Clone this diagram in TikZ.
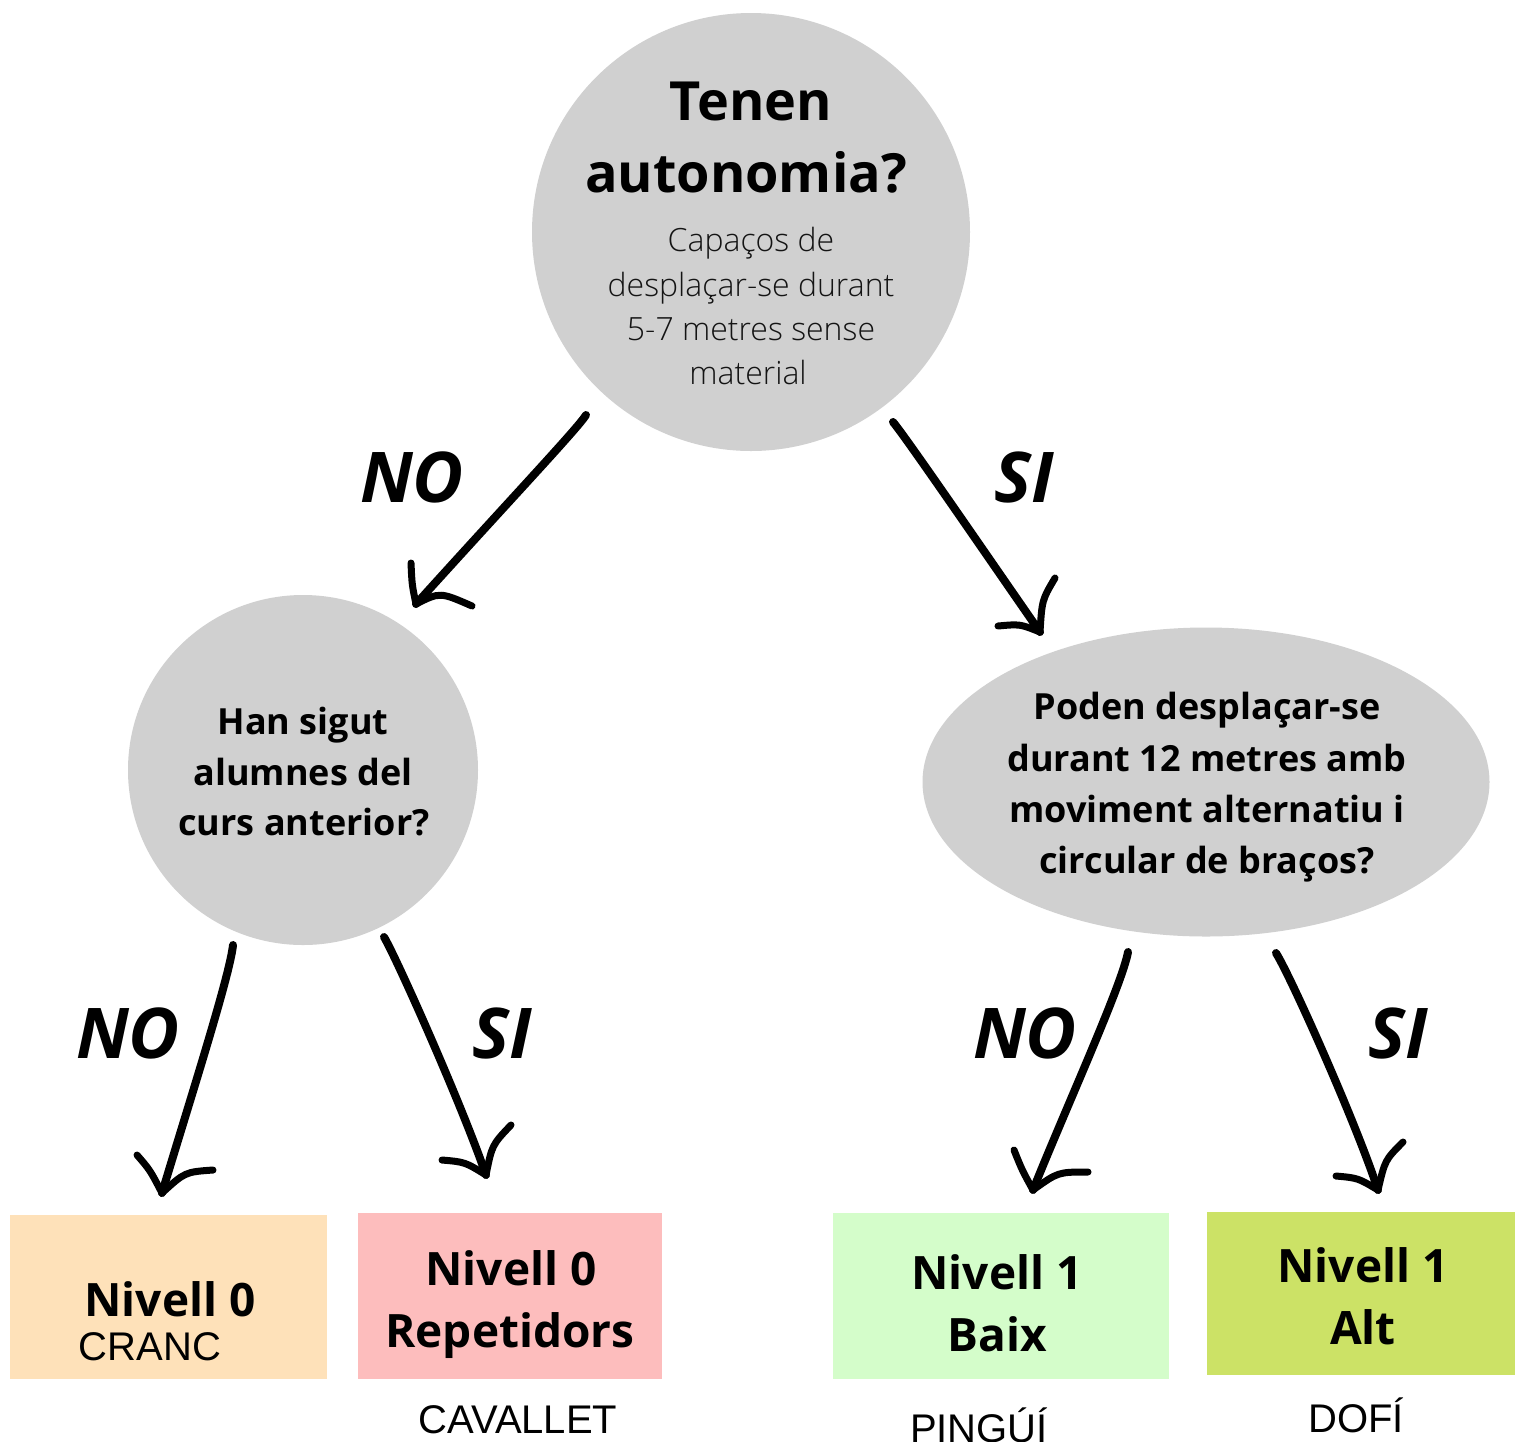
\documentclass[tikz,border=0pt]{standalone}
\usepackage{fontspec}
\setmainfont{Open Sans}
\IfFontExistsTF{Open Sans Light}{\newfontfamily\lightfont{Open Sans Light}}{\newfontfamily\lightfont{Open Sans}}
\newfontfamily\arialfont{Liberation Sans}
\usetikzlibrary{shapes.geometric}
\definecolor{qgray}{HTML}{D0D0D0}
\definecolor{peach}{HTML}{FEE1B9}
\definecolor{pinkbox}{HTML}{FDBDBD}
\definecolor{mintbox}{HTML}{D4FDCA}
\definecolor{limebox}{HTML}{CCE266}
\tikzset{
  qcircle/.style={circle,fill=qgray,inner sep=0pt,minimum size=#1},
  levelbox/.style={rectangle,inner sep=0pt},
  ln/.style={anchor=base,inner sep=0pt},
  titlefont/.style={ln,font=\fontsize{54}{60}\selectfont\bfseries},
  descfont/.style={ln,font=\fontsize{32}{36}\selectfont\lightfont,text=black!92},
  qfont/.style={ln,font=\fontsize{36}{40}\selectfont\bfseries},
  answer/.style={ln,font=\fontsize{70}{74}\selectfont\bfseries\itshape},
  levelfont/.style={ln,font=\fontsize{46}{50}\selectfont\bfseries},
  animal/.style={ln,font=\fontsize{40}{44}\selectfont\arialfont},
  shaft/.style={line width=8pt,line cap=round,line join=round},
  headstroke/.style={line width=7pt,line cap=round},
}
\begin{document}
\begin{tikzpicture}[x=1pt,y=-1pt]
\useasboundingbox (0,0) rectangle (1515,1441);
\clip (0,0) rectangle (1515,1441);
\fill[white] (0,0) rectangle (1515,1441);

% question shapes
\node[qcircle=438pt] (top) at (751,232) {};
\node[qcircle=350pt] (left) at (303,770) {};
\node[ellipse,fill=qgray,inner sep=0pt,minimum width=567pt,minimum height=309pt] (right) at (1206,782) {};

% level boxes
\node[levelbox,fill=peach,minimum width=317pt,minimum height=164pt] (b1) at (168.5,1297) {};
\node[levelbox,fill=pinkbox,minimum width=304pt,minimum height=166pt] (b2) at (510,1296) {};
\node[levelbox,fill=mintbox,minimum width=336pt,minimum height=166pt] (b3) at (1001,1296) {};
\node[levelbox,fill=limebox,minimum width=308pt,minimum height=163pt] (b4) at (1361,1293.5) {};

% top circle text
\node[titlefont] (t1) at (751,120) {Tenen};
\node[titlefont] (t2) at (746,192) {autonomia?};
\node[descfont] (d1) at (751,251) {Capaços de};
\node[descfont] (d2) at (751,296) {desplaçar-se durant};
\node[descfont] (d3) at (751,340) {5-7 metres sense};
\node[descfont] (d4) at (748,384) {material};

% left circle text
\node[qfont] (l1) at (303,734) {Han sigut};
\node[qfont] (l2) at (303,785) {alumnes del};
\node[qfont] (l3) at (304,835) {curs anterior?};

% right ellipse text
\node[qfont] (r1) at (1207,719) {Poden desplaçar-se};
\node[qfont] (r2) at (1207,771) {durant 12 metres amb};
\node[qfont] (r3) at (1207,822) {moviment alternatiu i};
\node[qfont] (r4) at (1207,873) {circular de braços?};

% answers
\node[answer] (n1) at (412,502) {NO};
\node[answer] (s1) at (1024,502) {SI};
\node[answer] (n2) at (128,1058) {NO};
\node[answer] (s2) at (502,1058) {SI};
\node[answer] (n3) at (1025,1058) {NO};
\node[answer] (s3) at (1398,1058) {SI};

% box texts
\node[levelfont] (b1a) at (170,1316) {Nivell 0};
\node[animal] (b1b) at (150,1360) {CRANC};
\node[levelfont] (b2a) at (511,1285) {Nivell 0};
\node[levelfont] (b2b) at (510,1347) {Repetidors};
\node[animal] (b2c) at (518,1433) {CAVALLET};
\node[levelfont] (b3a) at (997,1289) {Nivell 1};
\node[levelfont] (b3b) at (997,1351) {Baix};
\node[animal] (b3c) at (979,1442) {PINGÚÍ};
\node[levelfont] (b4a) at (1363,1282) {Nivell 1};
\node[levelfont] (b4b) at (1363,1344) {Alt};
\node[animal] (b4c) at (1356,1432) {DOFÍ};

% arrow end points
\coordinate (a1s) at (586,415);  \coordinate (a1t) at (416,604);
\coordinate (a2s) at (893,422);  \coordinate (a2t) at (1040,632);
\coordinate (a3s) at (233,945);  \coordinate (a3t) at (162,1193);
\coordinate (a4s) at (384,937);  \coordinate (a4t) at (486,1175);
\coordinate (a5s) at (1128,952); \coordinate (a5t) at (1033,1190);
\coordinate (a6s) at (1276,953); \coordinate (a6t) at (1378,1190);

% shafts
\draw[shaft] (a1s) .. controls (578,428) and (510,500) .. (a1t);
\draw[shaft] (a2s) .. controls (905,436) and (990,560) .. (a2t);
\draw[shaft] (a3s) .. controls (230,975) and (190,1100) .. (a3t);
\draw[shaft] (a4s) .. controls (395,955) and (460,1100) .. (a4t);
\draw[shaft] (a5s) .. controls (1122,985) and (1065,1110) .. (a5t);
\draw[shaft] (a6s) .. controls (1290,975) and (1355,1120) .. (a6t);

% heads
\draw[headstroke] (a1t) .. controls (412,585) .. (411,563);
\draw[headstroke] (a1t) .. controls (440,592) .. (472,606);
\draw[headstroke] (a2t) .. controls (1042,600) .. (1055,578);
\draw[headstroke] (a2t) .. controls (1020,624) .. (998,626);
\draw[headstroke] (a3t) .. controls (150,1170) .. (137,1155);
\draw[headstroke] (a3t) .. controls (185,1172) .. (213,1170);
\draw[headstroke] (a4t) .. controls (492,1145) .. (511,1125);
\draw[headstroke] (a4t) .. controls (465,1162) .. (442,1160);
\draw[headstroke] (a5t) .. controls (1022,1170) .. (1014,1150);
\draw[headstroke] (a5t) .. controls (1058,1172) .. (1088,1172);
\draw[headstroke] (a6t) .. controls (1385,1160) .. (1403,1142);
\draw[headstroke] (a6t) .. controls (1358,1178) .. (1336,1176);
\end{tikzpicture}
\end{document}
